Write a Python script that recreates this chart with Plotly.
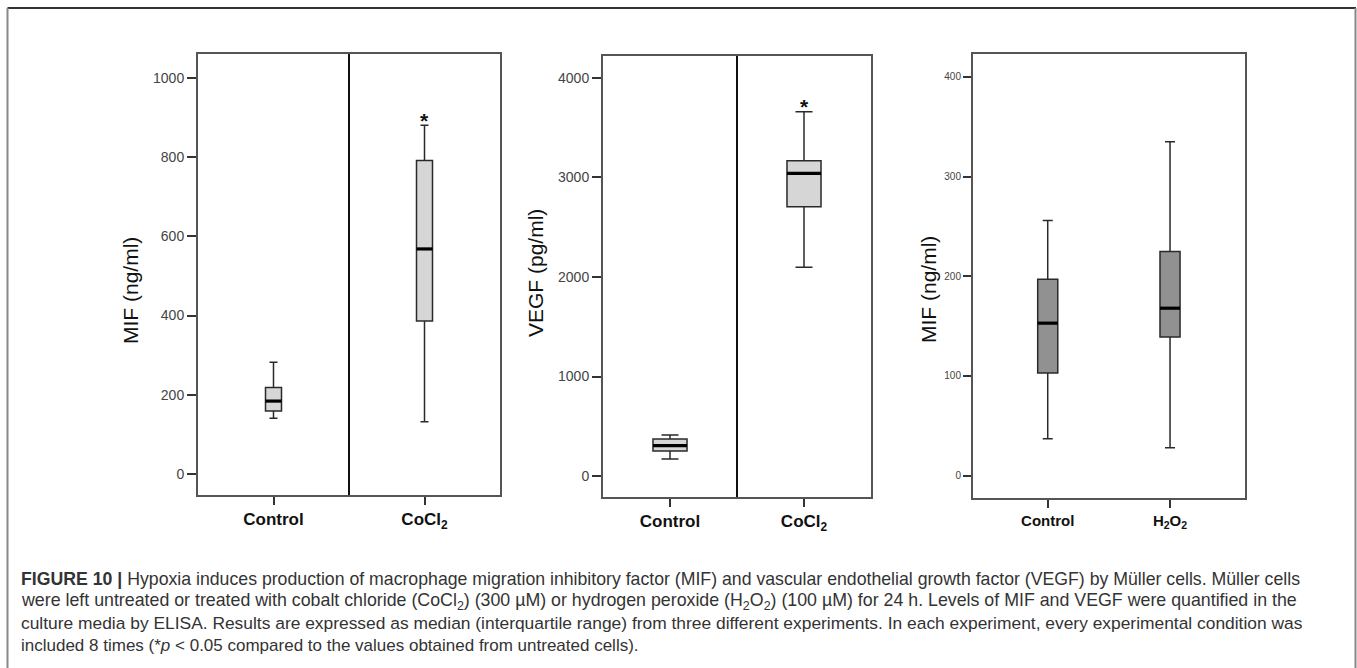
import plotly.graph_objects as go

W, H = 1357, 668

# ---------------- data ----------------
p1_categories = ["Control", "CoCl<sub>2</sub>"]
p1_lower = [141, 132]
p1_q1 = [159, 386]
p1_median = [184, 568]
p1_q3 = [218, 791]
p1_upper = [282, 880]

p2_categories = ["Control", "CoCl<sub>2</sub>"]
p2_lower = [171, 2097]
p2_q1 = [251, 2707]
p2_median = [305, 3042]
p2_q3 = [372, 3169]
p2_upper = [412, 3661]

p3_categories = ["Control", "H<sub>2</sub>O<sub>2</sub>"]
p3_lower = [37, 28]
p3_q1 = [103, 139]
p3_median = [153, 168]
p3_q3 = [197, 225]
p3_upper = [256, 335]

p1_ticks = [0, 200, 400, 600, 800, 1000]
p2_ticks = [0, 1000, 2000, 3000, 4000]
p3_ticks = [0, 100, 200, 300, 400]

caption_lines = [
    "<b>FIGURE 10 |</b> Hypoxia induces production of macrophage migration inhibitory factor (MIF) and vascular endothelial growth factor (VEGF) by Müller cells. Müller cells",
    "were left untreated or treated with cobalt chloride (CoCl<sub>2</sub>) (300 µM) or hydrogen peroxide (H<sub>2</sub>O<sub>2</sub>) (100 µM) for 24 h. Levels of MIF and VEGF were quantified in the",
    "culture media by ELISA. Results are expressed as median (interquartile range) from three different experiments. In each experiment, every experimental condition was",
    "included 8 times (*<i>p</i> < 0.05 compared to the values obtained from untreated cells).",
]
caption_sizes = [17.7, 17.8, 17.4, 17]


def px(x):
    return x / W


def py(y):
    return 1 - y / H


fig = go.Figure()

FONT = "Liberation Sans, Arial, sans-serif"

panels = [
    dict(cats=p1_categories, lo=p1_lower, q1=p1_q1, med=p1_median, q3=p1_q3, hi=p1_upper,
         ticks=p1_ticks, xdom=(198, 500), ydom=(54, 495), yrange=(-53, 1060), xrange=(-0.5, 1.5),
         bw=0.106, fill="#d6d6d6", title="MIF (ng/ml)", tx=130, ty=291, tickfont=14,
         xfont=17, ticklen=9, divider=True, star=True),
    dict(cats=p2_categories, lo=p2_lower, q1=p2_q1, med=p2_median, q3=p2_q3, hi=p2_upper,
         ticks=p2_ticks, xdom=(603, 871), ydom=(56, 497), yrange=(-211, 4221), xrange=(-0.5, 1.5),
         bw=0.254, fill="#d6d6d6", title="VEGF (pg/ml)", tx=535, ty=273, tickfont=14,
         xfont=17, ticklen=9, divider=True, star=True),
    dict(cats=p3_categories, lo=p3_lower, q1=p3_q1, med=p3_median, q3=p3_q3, hi=p3_upper,
         ticks=p3_ticks, xdom=(973, 1245), ydom=(54, 498), yrange=(-22.4, 423), xrange=(-0.611, 1.613),
         bw=0.164, fill="#919191", title="MIF (ng/ml)", tx=928, ty=290, tickfont=10,
         xfont=15, ticklen=8, divider=False, star=False),
]

for i, p in enumerate(panels):
    n = "" if i == 0 else str(i + 1)
    xa, ya = "x" + n, "y" + n
    pos = list(range(len(p["cats"])))
    fig.add_trace(go.Box(
        x=pos, q1=p["q1"], median=p["med"], q3=p["q3"],
        lowerfence=p["lo"], upperfence=p["hi"],
        width=p["bw"], whiskerwidth=0.5, boxpoints=False,
        fillcolor=p["fill"], line=dict(color="#2a2a2a", width=1.5),
        xaxis=xa, yaxis=ya, showlegend=False, hoverinfo="skip",
    ))
    # thick median bars
    for j, m in enumerate(p["med"]):
        fig.add_trace(go.Scatter(
            x=[pos[j] - p["bw"] / 2, pos[j] + p["bw"] / 2], y=[m, m],
            mode="lines", line=dict(color="#000000", width=3.2),
            xaxis=xa, yaxis=ya, showlegend=False, hoverinfo="skip",
        ))
    if p["star"]:
        fig.add_annotation(x=pos[1], y=p["hi"][1], xref=xa, yref=ya, text="<b>*</b>",
                           showarrow=False, yshift=5, font=dict(family=FONT, size=21, color="#111"))
    if p["divider"]:
        fig.add_shape(type="line", x0=0.5, x1=0.5, y0=0, y1=1, xref=xa, yref=ya + " domain",
                      line=dict(color="#111111", width=2))
    axkey = "xaxis" + n
    aykey = "yaxis" + n
    fig.update_layout(**{
        axkey: dict(domain=[px(p["xdom"][0]), px(p["xdom"][1])], anchor=ya,
                    range=list(p["xrange"]), tickvals=pos,
                    ticktext=["<b>%s</b>" % c for c in p["cats"]],
                    ticks="outside", ticklen=8, tickwidth=1.5, tickcolor="#333",
                    showline=True, linecolor="#555555", linewidth=2, mirror=True,
                    showgrid=False, zeroline=False,
                    tickfont=dict(family=FONT, size=p["xfont"], color="#111")),
        aykey: dict(domain=[py(p["ydom"][1]), py(p["ydom"][0])], anchor=xa,
                    range=list(p["yrange"]), tickvals=p["ticks"],
                    ticks="outside", ticklen=p["ticklen"], tickwidth=1.5, tickcolor="#333",
                    showline=True, linecolor="#555555", linewidth=2, mirror=True,
                    showgrid=False, zeroline=False,
                    tickfont=dict(family=FONT, size=p["tickfont"], color="#444")),
    })
    fig.add_annotation(x=px(p["tx"]), y=py(p["ty"]), xref="paper", yref="paper",
                       xanchor="center", yanchor="middle",
                       text=p["title"], textangle=-90, showarrow=False,
                       font=dict(family=FONT, size=21, color="#111"))

# caption
cap_y = [579, 601, 623, 645]
for line, yy, fs in zip(caption_lines, cap_y, caption_sizes):
    fig.add_annotation(x=px(19), y=py(yy), xref="paper", yref="paper", xanchor="left",
                       yanchor="middle", align="left", text=line, showarrow=False,
                       font=dict(family="Liberation Sans Narrow, Liberation Sans, Arial", size=fs,
                                 color="#333333"))

# outer frame
fig.add_shape(type="line", xref="paper", yref="paper", x0=px(7.5), x1=px(1356), y0=py(8), y1=py(8),
              line=dict(color="#333333", width=2))
fig.add_shape(type="line", xref="paper", yref="paper", x0=px(7.5), x1=px(7.5), y0=py(8), y1=py(680),
              line=dict(color="#888888", width=2))
fig.add_shape(type="line", xref="paper", yref="paper", x0=px(1355.5), x1=px(1355.5), y0=py(8), y1=py(680),
              line=dict(color="#888888", width=2))

fig.update_layout(width=W, height=H, margin=dict(l=0, r=0, t=0, b=0),
                  paper_bgcolor="white", plot_bgcolor="white", showlegend=False)

fig.write_html("out.html", config={"displayModeBar": False},
               post_script="document.body.style.margin='0';")
